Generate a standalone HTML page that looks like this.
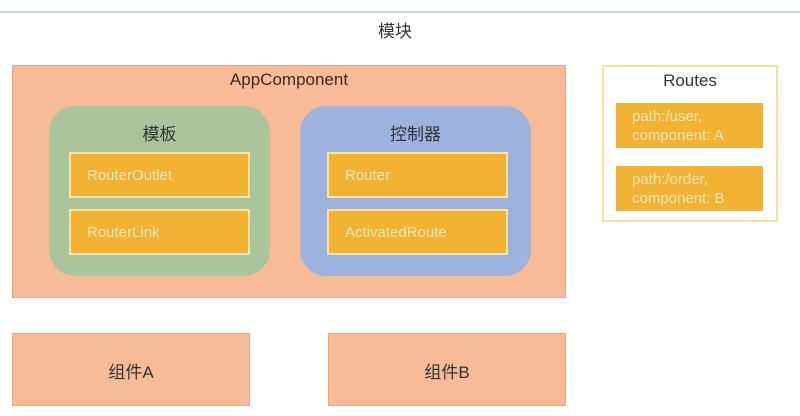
<!DOCTYPE html>
<html><head><meta charset="utf-8"><style>
body{margin:0;width:800px;height:416px;background:#fff;position:relative;overflow:hidden;font-family:"Liberation Sans","Noto Sans CJK SC",sans-serif;}
div{position:absolute;box-sizing:border-box;}
.y{background:#f2b233;border:2px solid #fbe3a8;color:#fbe6b8;font-size:15px;padding-left:16px;display:flex;align-items:center;}
.o{background:#f7bb97;border:1px solid #eaa889;}
.t{text-align:center;color:#333;}
</style></head><body>
<div style="left:0;top:11px;width:800px;height:2px;background:#cfd6dd"></div>
<div class="t" style="left:0;top:17px;width:790px;font-size:17px;">模块</div>
<div class="o" style="left:12px;top:65px;width:554px;height:233px"></div>
<div class="t" style="left:12px;top:70px;width:554px;font-size:17px;color:#3a2a20">AppComponent</div>
<div style="left:49px;top:106px;width:221px;height:170px;background:#aac59c;border:1px solid #b5c49a;border-radius:26px"></div>
<div class="t" style="left:49px;top:120px;width:221px;font-size:17px;">模板</div>
<div style="left:300px;top:106px;width:231px;height:170px;background:#9db2df;border:1px solid #a8b4d0;border-radius:26px"></div>
<div class="t" style="left:300px;top:120px;width:231px;font-size:17px;">控制器</div>
<div class="y" style="left:69px;top:152px;width:181px;height:46px">RouterOutlet</div>
<div class="y" style="left:69px;top:209px;width:181px;height:46px">RouterLink</div>
<div class="y" style="left:327px;top:152px;width:181px;height:46px">Router</div>
<div class="y" style="left:327px;top:209px;width:181px;height:46px">ActivatedRoute</div>
<div style="left:602px;top:65px;width:176px;height:157px;border:2px solid #f6dfa0;background:#fff"></div>
<div class="t" style="left:602px;top:71px;width:176px;font-size:17px;">Routes</div>
<div class="y" style="left:616px;top:103px;width:147px;height:45px;border:none;line-height:19px;padding-left:16px">path:/user,<br>component: A</div>
<div class="y" style="left:616px;top:166px;width:147px;height:45px;border:none;line-height:19px;padding-left:16px">path:/order,<br>component: B</div>
<div class="o" style="left:12px;top:333px;width:238px;height:73px"></div>
<div class="t" style="left:12px;top:358px;width:238px;font-size:17px;">组件A</div>
<div class="o" style="left:328px;top:333px;width:238px;height:73px"></div>
<div class="t" style="left:328px;top:358px;width:238px;font-size:17px;">组件B</div>
</body></html>
